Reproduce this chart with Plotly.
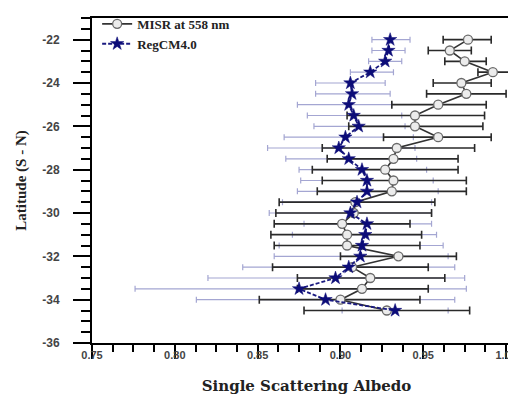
import plotly.graph_objects as go

lat = [-22.0, -22.5, -23.0, -23.5, -24.0, -24.5, -25.0, -25.5, -26.0, -26.5,
       -27.0, -27.5, -28.0, -28.5, -29.0, -29.5, -30.0, -30.5, -31.0, -31.5,
       -32.0, -32.5, -33.0, -33.5, -34.0, -34.5]

misr = [0.977, 0.966, 0.975, 0.992, 0.973, 0.976, 0.959, 0.945, 0.945, 0.959,
        0.934, 0.932, 0.927, 0.932, 0.931, 0.909, 0.908, 0.901, 0.904, 0.904,
        0.935, 0.907, 0.918, 0.913, 0.900, 0.928]
misr_lo = [0.962, 0.953, 0.963, 0.983, 0.956, 0.952, 0.931, 0.904, 0.905, 0.926,
           0.889, 0.892, 0.883, 0.889, 0.886, 0.863, 0.861, 0.860, 0.858, 0.860,
           0.900, 0.859, 0.874, 0.874, 0.851, 0.878]
misr_hi = [0.991, 0.979, 0.988, 1.002, 0.991, 1.000, 0.988, 0.987, 0.986, 0.991,
           0.981, 0.971, 0.971, 0.976, 0.976, 0.957, 0.955, 0.942, 0.949, 0.948,
           0.970, 0.953, 0.963, 0.953, 0.948, 0.978]

regcm = [0.930, 0.929, 0.927, 0.918, 0.906, 0.907, 0.905, 0.908, 0.911, 0.903,
         0.899, 0.905, 0.913, 0.916, 0.916, 0.910, 0.906, 0.916, 0.915, 0.913,
         0.912, 0.905, 0.897, 0.875, 0.891, 0.933]
regcm_lo = [0.919, 0.919, 0.917, 0.906, 0.885, 0.885, 0.874, 0.880, 0.884, 0.866,
            0.856, 0.867, 0.875, 0.876, 0.874, 0.865, 0.857, 0.878, 0.871, 0.863,
            0.860, 0.841, 0.820, 0.776, 0.813, 0.901]
regcm_hi = [0.942, 0.939, 0.937, 0.932, 0.927, 0.930, 0.931, 0.937, 0.939, 0.944,
            0.945, 0.946, 0.952, 0.956, 0.959, 0.955, 0.955, 0.955, 0.958, 0.962,
            0.965, 0.969, 0.975, 0.976, 0.969, 0.965]

x_ticks = [0.75, 0.80, 0.85, 0.90, 0.95, 1.00]
x_labels = ["0.75", "0.80", "0.85", "0.90", "0.95", "1.00"]
y_ticks = [-22, -24, -26, -28, -30, -32, -34, -36]

X_RANGE = [0.75, 1.009]


def plus(v, hi):
    return [h - a for a, h in zip(v, hi)]


def minus(v, lo):
    return [a - l for a, l in zip(v, lo)]


fig = go.Figure()

# RegCM error bars (drawn behind)
fig.add_trace(go.Scatter(
    x=regcm, y=lat, mode="markers", showlegend=False, hoverinfo="skip",
    marker=dict(size=1, opacity=0),
    error_x=dict(type="data", symmetric=False, array=plus(regcm, regcm_hi),
                 arrayminus=minus(regcm, regcm_lo), color="#a4a6d2",
                 thickness=1.2, width=3),
))

# MISR
fig.add_trace(go.Scatter(
    x=misr, y=lat, mode="lines+markers", name="<b>MISR at 558 nm</b>",
    line=dict(color="#333333", width=1.6),
    marker=dict(symbol="circle", size=9, color="#ececec",
                line=dict(color="#6a6a6a", width=1.3)),
    error_x=dict(type="data", symmetric=False, array=plus(misr, misr_hi),
                 arrayminus=minus(misr, misr_lo), color="#2a2a2a",
                 thickness=1.6, width=4),
))

# RegCM
fig.add_trace(go.Scatter(
    x=regcm, y=lat, mode="lines+markers", name="<b>RegCM4.0</b>",
    line=dict(color="#1a1a80", width=1.8, dash="4px,2px"),
    marker=dict(symbol="star", size=10, color="#0c0c78",
                line=dict(color="#0c0c78", width=0.5)),
))

# invisible helper for the tick-label axis
fig.add_trace(go.Scatter(x=[0.8], y=[-30], xaxis="x2", mode="markers",
                         marker=dict(opacity=0), showlegend=False, hoverinfo="skip"))

fig.update_layout(
    width=516, height=398,
    margin=dict(l=84, r=1, t=7, b=63),
    plot_bgcolor="white", paper_bgcolor="white",
    showlegend=True,
    legend=dict(x=0.012, y=1.028, xanchor="left", yanchor="top",
                bgcolor="rgba(0,0,0,0)", borderwidth=0,
                font=dict(family="Liberation Serif", size=13, color="#222222"),
                tracegroupgap=0, itemwidth=30),
    xaxis=dict(range=X_RANGE, tickvals=x_ticks, showticklabels=False,
               ticks="outside", ticklen=14, tickwidth=2, tickcolor="black",
               minor=dict(dtick=0.0125, ticks="outside", ticklen=7, tickwidth=2,
                          tickcolor="black", showgrid=False),
               showline=True, linecolor="black", linewidth=2, mirror=True,
               showgrid=False, zeroline=False,
               title=dict(text="<b>Single Scattering Albedo</b>",
                          font=dict(family="DejaVu Serif", size=15, color="#222222"),
                          standoff=22)),
    xaxis2=dict(range=X_RANGE, overlaying="x", anchor="y", side="bottom",
                tickvals=x_ticks, ticktext=["<b>%s</b>" % t for t in x_labels],
                ticks="", showline=False, showgrid=False, zeroline=False,
                ticklabelstandoff=4, ticklabeloverflow="allow",
                tickfont=dict(family="Liberation Sans", size=11, color="#444444")),
    yaxis=dict(range=[-36, -21], tickvals=y_ticks,
               ticktext=["<b>%d</b>" % t for t in y_ticks],
               ticks="outside", ticklen=17, tickwidth=2, tickcolor="black",
               minor=dict(dtick=0.5, ticks="outside", ticklen=9, tickwidth=2,
                          tickcolor="black", showgrid=False),
               showline=True, linecolor="black", linewidth=2, mirror=True,
               showgrid=False, zeroline=False, ticklabelstandoff=11,
               tickfont=dict(family="Liberation Sans", size=12, color="#444444"),
               title=dict(text="<b>Latitude (S - N)</b>",
                          font=dict(family="Liberation Serif", size=15, color="#222222"),
                          standoff=12)),
)

fig.write_html("out.html")
